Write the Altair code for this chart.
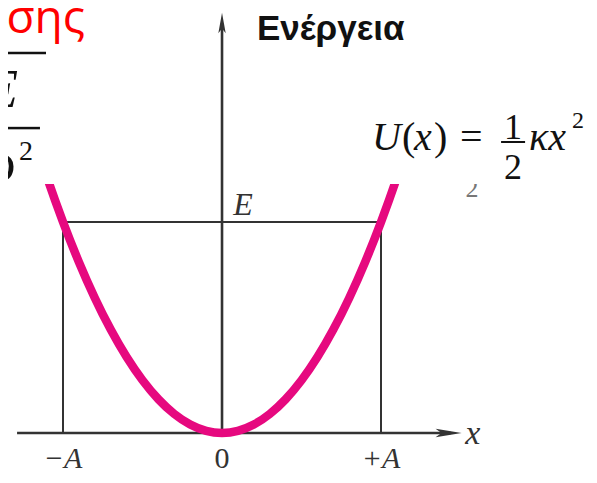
import altair as alt
import pandas as pd

# ---------------- data (x in units of A, U in units of E) ----------------
curve_x = [-1.2, -1.1, -1.0, -0.9, -0.8, -0.7, -0.6, -0.5, -0.4, -0.3, -0.2, -0.1, 0.0,
           0.1, 0.2, 0.3, 0.4, 0.5, 0.6, 0.7, 0.8, 0.9, 1.0, 1.1, 1.2]
curve_u = [1.44, 1.21, 1.00, 0.81, 0.64, 0.49, 0.36, 0.25, 0.16, 0.09, 0.04, 0.01, 0.0,
           0.01, 0.04, 0.09, 0.16, 0.25, 0.36, 0.49, 0.64, 0.81, 1.00, 1.21, 1.44]
amplitude = 1.0
energy = 1.0
tick_pos = [-1.0, 0.0, 1.0]
tick_labels = ["\u2212A", "0", "+A"]

# ---------------- styles ----------------
SERIF = '"Liberation Serif", "Times New Roman", Times, "DejaVu Serif", serif'
SANS = '"Liberation Sans", Arial, Helvetica, sans-serif'
INK = "#333333"
BLACK = "#111111"
PINK = "#E6097F"

XS = alt.Scale(domain=[-1.346, 2.308], nice=False, zero=False)
YS = alt.Scale(domain=[-0.199, 2.014], nice=False, zero=False)


def X(f="x"):
    return alt.X(f"{f}:Q", scale=XS, axis=None)


def Y(f="y"):
    return alt.Y(f"{f}:Q", scale=YS, axis=None)


def seg(x1, x2, y1, y2, width=2.0, color=INK):
    df = pd.DataFrame({"x": [x1], "x2": [x2], "y": [y1], "y2": [y2]})
    return alt.Chart(df).mark_rule(strokeWidth=width, color=color, strokeCap="butt").encode(
        x=X(), x2="x2:Q", y=Y(), y2="y2:Q")


def label(text, x, y, size, font=SERIF, style="normal", weight="normal",
          color=INK, align="left"):
    df = pd.DataFrame({"x": [x], "y": [y], "t": [text]})
    return alt.Chart(df).mark_text(font=font, fontSize=size, fontStyle=style,
                                   fontWeight=weight, color=color, align=align,
                                   baseline="alphabetic").encode(x=X(), y=Y(), text="t:N")


def arrow(x, y, path, size):
    df = pd.DataFrame({"x": [x], "y": [y]})
    return alt.Chart(df).mark_point(shape=path, size=size, filled=True, color=INK,
                                    opacity=1, strokeWidth=0).encode(x=X(), y=Y())


# axes
x_axis = seg(-1.289, 1.44, 0, 0, 2.6)
y_axis = seg(0, 0, 0, 1.93, 2.6)
x_head = arrow(1.425, 0, "M1,0L-1,0.32L-0.55,0L-1,-0.32Z", 676)
y_head = arrow(0, 1.943, "M0,-1L0.36,1L0,0.55L-0.36,1Z", 420)

# guide lines
e_line = seg(-amplitude, amplitude, energy, energy, 2.0)
a_left = seg(-amplitude, -amplitude, 0, energy, 2.0)
a_right = seg(amplitude, amplitude, 0, energy, 2.0)

# potential curve
curve_df = pd.DataFrame({"x": curve_x, "y": curve_u})
curve = alt.Chart(curve_df).mark_line(color=PINK, strokeWidth=8.5, interpolate="monotone").encode(
    x=X(), y=Y(), order="x:Q")

# white boxes hiding the curve tops
box_df = pd.DataFrame({"x": [-1.346, 0.5], "x2": [-0.5, 2.308], "y": [1.18, 1.18], "y2": [2.014, 2.014]})
boxes = alt.Chart(box_df).mark_rect(color="white").encode(x=X(), x2="x2:Q", y=Y(), y2="y2:Q")

artifact = label("2", 1.572, 1.118, 26, color="#777777", align="center")

# tick labels
ticks_df = pd.DataFrame({"x": tick_pos, "y": [-0.166] * 3, "t": tick_labels})
ticks_it = alt.Chart(ticks_df).transform_filter("datum.t != '0'").mark_text(
    font=SERIF, fontSize=30, fontStyle="italic", color=INK, baseline="alphabetic").encode(
    x=X(), y=Y(), text="t:N")
ticks_up = alt.Chart(ticks_df).transform_filter("datum.t == '0'").mark_text(
    font=SERIF, fontSize=30, color=INK, baseline="alphabetic").encode(
    x=X(), y=Y(), text="t:N")

layers = [
    x_axis, y_axis, e_line, a_left, a_right, curve, artifact, boxes, x_head, y_head,
    ticks_it, ticks_up,
    label("x", 1.53, -0.05, 34, style="italic"),
    label("E", 0.07, 1.033, 32, style="italic"),
    label("Ενέργεια", 0.22, 1.863, 35, font=SANS, weight="bold", color=BLACK),
    # formula U(x) = 1/2 k x^2
    label("U", 0.943, 1.341, 40, style="italic", color=BLACK),
    label("(", 1.132, 1.341, 40, color=BLACK),
    label("x", 1.208, 1.341, 40, style="italic", color=BLACK),
    label(")", 1.333, 1.341, 40, color=BLACK),
    label("=", 1.497, 1.341, 40, color=BLACK),
    label("1", 1.830, 1.393, 36, color=BLACK, align="center"),
    seg(1.755, 1.906, 1.379, 1.379, 2.0, BLACK),
    label("2", 1.830, 1.204, 36, color=BLACK, align="center"),
    label("κx", 1.931, 1.341, 40, style="italic", color=BLACK),
    label("2", 2.201, 1.445, 24, color=BLACK),
    # clipped fragments at the left edge
    label("ταλάντωσης", -0.862, 1.896, 46, font='"Open Sans", "Noto Sans", sans-serif',
          color="#FF0000", align="right"),
    seg(-1.346, -1.107, 1.801, 1.801, 2.5, BLACK),
    label("2E", -1.283, 1.545, 54, style="italic", color=BLACK, align="right"),
    seg(-1.346, -1.145, 1.445, 1.445, 2.5, BLACK),
    label("mω", -1.296, 1.199, 54, style="italic", color=BLACK, align="right"),
    label("2", -1.277, 1.294, 28, color=BLACK),
]

chart = alt.layer(*layers).properties(
    width=581, height=467, padding=0,
    autosize=alt.AutoSizeParams(type="none"),
).configure_view(stroke=None)

chart.save("out.html", embed_options={"renderer": "svg", "actions": False})
